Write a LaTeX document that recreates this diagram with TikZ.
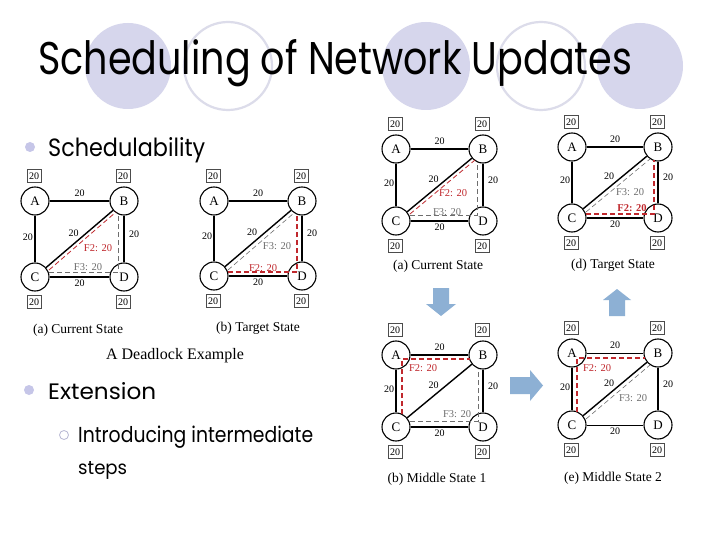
\documentclass[tikz,border=0pt]{standalone}
\usepackage{fontspec}
\setmainfont{Liberation Serif}
\newfontfamily\comic{Poppins}
\usetikzlibrary{calc}
\definecolor{lavfill}{RGB}{214,214,236}
\definecolor{lavline}{RGB}{220,220,234}
\definecolor{bulletlav}{RGB}{198,198,232}
\definecolor{arrowblue}{RGB}{141,176,212}
\definecolor{flowred}{RGB}{192,40,45}
\definecolor{flowgray}{RGB}{110,110,110}
\tikzset{
  nd/.style={circle, draw, line width=1.1pt, minimum size=28pt, inner sep=0pt, fill=white, font=\fontsize{13}{13}\selectfont},
  capbox/.style={draw=black!70, line width=0.4pt, inner sep=0pt, minimum width=14pt, minimum height=13pt, fill=white, font=\fontsize{10}{10}\selectfont},
  lbl/.style={inner sep=0pt, font=\fontsize{10}{10}\selectfont},
  lnk/.style={line width=1.4pt},
  fred/.style={draw=flowred, dash pattern=on 5pt off 3pt, line width=0.8pt},
  fredthick/.style={draw=flowred, dash pattern=on 5pt off 3pt, line width=1.5pt},
  fgray/.style={draw=flowgray, dash pattern=on 5pt off 3pt, line width=0.6pt},
  ftwo/.style={inner sep=0pt, text=flowred, font=\fontsize{10.5}{10.5}\selectfont},
  fthree/.style={inner sep=0pt, text=flowgray, font=\fontsize{10.5}{10.5}\selectfont},
  capt/.style={inner sep=0pt, font=\fontsize{13.5}{14}\selectfont},
  bigtxt/.style={anchor=base west, inner sep=0pt},
}
% #1 prefix, #2 Ax, #3 Ay, #4 dx, #5 dy, #6 width of A-B and C-D links
\newcommand{\netw}[6]{%
  \node[nd] (#1A) at (#2,#3) {A};
  \node[nd] (#1B) at ({#2+#4},#3) {B};
  \node[nd] (#1C) at (#2,{#3+#5}) {C};
  \node[nd] (#1D) at ({#2+#4},{#3+#5}) {D};
  \draw[line width=#6] (#1A) -- (#1B);
  \draw[lnk] (#1A) -- (#1C);
  \draw[lnk] (#1B) -- (#1D);
  \draw[line width=#6] (#1C) -- (#1D);
  \draw[lnk] (#1C) -- (#1B);
  \node[capbox] (#1bA) at ($(#1A)+(-1,-25)$) {20};
  \node[capbox] (#1bB) at ($(#1B)+(-1,-25)$) {20};
  \node[capbox] (#1bC) at ($(#1C)+(-1,25)$) {20};
  \node[capbox] (#1bD) at ($(#1D)+(-1,25)$) {20};
  \node[lbl] (#1lAB) at ($(#1A)!0.5!(#1B)+(0,-8)$) {20};
  \node[lbl] (#1lAC) at ($(#1A)!0.5!(#1C)+(-7,-2)$) {20};
  \node[lbl] (#1lBD) at ($(#1B)!0.5!(#1D)+(10,-5)$) {20};
  \node[lbl] (#1lCB) at ($(#1C)!0.5!(#1B)+(-6,-6)$) {20};
  \node[lbl] (#1lCD) at ($(#1C)!0.5!(#1D)+(0,6)$) {20};
}
\begin{document}
\begin{tikzpicture}[x=1pt,y=-1pt]
\useasboundingbox (0,0) rectangle (720,540);
\fill[white] (0,0) rectangle (720,540);
% title decoration circles
\fill[lavfill] (128,66) circle (43);
\draw[lavline, line width=2.2pt] (228,66) circle (44);
\fill[lavfill] (426,66) circle (44);
\draw[lavline, line width=2.2pt] (541,66) circle (44);
\fill[lavfill] (640,66) circle (43);
\node[bigtxt] (title) at (38,75) {\resizebox{594pt}{35pt}{\comic Scheduling of Network Updates}};
% bullets
\fill[bulletlav] (30,147) circle (5);
\node[bigtxt] (sched) at (48,157) {\resizebox{157pt}{19pt}{\comic Schedulability}};
\fill[bulletlav] (29,390) circle (5);
\node[bigtxt] (ext) at (48,399) {\resizebox{108pt}{17pt}{\comic Extension}};
\draw[bulletlav!80!gray, line width=0.8pt] (64,435) circle (4.5);
\node[bigtxt] (intro) at (78,442) {\resizebox{235pt}{16.5pt}{\comic Introducing intermediate}};
\node[bigtxt] (steps) at (78,474) {\resizebox{49pt}{13pt}{\comic steps}};

% left: deadlock example
\netw{la}{35}{201}{89}{76}{1.4pt}
\draw[fgray] ($(laC)+(14,-5)$) -- ($(laD)+(-6,-5)$) -- ($(laB)+(-6,13)$);
\draw[fred] ($(laC)+(14,-7)$) -- ($(laB)+(-8,11)$);
\node[ftwo] (laf2) at (98,248) {F2: 20};
\node[fthree] (laf3) at (88,267) {F3: 20};
\node[capt] (lacap) at (78,330) {(a) Current State};

\netw{lb}{214}{201}{88}{75}{1.4pt}
\draw[fgray] ($(lbC)+(14,-6)$) -- ($(lbB)+(-8,12)$);
\draw[fredthick] ($(lbC)+(14,-4)$) -- ($(lbD)+(-5,-4)$) -- ($(lbB)+(-5,13)$);
\node[fthree] (lbf3) at (277,246) {F3: 20};
\node[ftwo] (lbf2) at (263,268) {F2: 20};
\node[capt] (lbcap) at (258,328) {(b) Target State};
\node[inner sep=0pt, font=\fontsize{16}{16}\selectfont] (dead) at (175,356) {A Deadlock Example};

% right: (a) current state
\netw{ra}{396}{149}{87}{72}{1.4pt}
\draw[fgray] ($(raC)+(14,-6)$) -- ($(raD)+(-6,-6)$) -- ($(raB)+(-6,13)$);
\draw[fred] ($(raC)+(14,-7)$) -- ($(raB)+(-8,11)$);
\node[ftwo] (raf2) at (453,193) {F2: 20};
\node[fthree] (raf3) at (447,212) {F3: 20};
\node[capt] (racap) at (438,266) {(a) Current State};

% right: (d) target state
\netw{rd}{572}{147}{86}{71}{1.4pt}
\draw[fgray] ($(rdC)+(14,-6)$) -- ($(rdB)+(-8,12)$);
\draw[fred, line width=1.1pt] ($(rdC)+(14,-4)$) -- ($(rdD)+(-4,-4)$) -- ($(rdB)+(-4,13)$);
\node[fthree] (rdf3) at (630,192) {F3: 20};
\node[ftwo, font=\fontsize{10.5}{10.5}\selectfont\bfseries] (rdf2) at (632,208) {F2: 20};
\node[capt] (rdcap) at (613,265) {(d) Target State};

% right: (b) middle state 1
\netw{rb}{396}{355}{87}{72}{1.4pt}
\draw[fgray] ($(rbC)+(14,-6)$) -- ($(rbD)+(-5,-6)$) -- ($(rbB)+(-5,14)$);
\draw[fredthick] ($(rbC)+(6,-13)$) -- ($(rbA)+(6,4)$) -- ($(rbB)+(-13,4)$);
\node[ftwo] (rbf2) at (423,368) {F2: 20};
\node[fthree] (rbf3) at (457,414) {F3: 20};
\node[capt] (rbcap) at (437,479) {(b) Middle State 1};

% right: (e) middle state 2
\netw{rc}{572}{353}{86}{72}{0.9pt}
\draw[fgray] ($(rcC)+(14,-6)$) -- ($(rcB)+(-8,12)$);
\draw[fredthick] ($(rcC)+(5,-13)$) -- ($(rcA)+(5,5)$) -- ($(rcB)+(-13,5)$);
\node[ftwo] (rcf2) at (597,368) {F2: 20};
\node[fthree] (rcf3) at (633,398) {F3: 20};
\node[capt] (rccap) at (613,478) {(e) Middle State 2};

% block arrows
\fill[arrowblue] (433,288) -- (449,288) -- (449,304) -- (456,304) -- (441,316) -- (426,304) -- (433,304) -- cycle;
\fill[arrowblue] (609,316) -- (625,316) -- (625,300) -- (631,300) -- (617,289) -- (603,300) -- (609,300) -- cycle;
\fill[arrowblue] (510,377) -- (530,377) -- (530,370) -- (543,385.5) -- (530,401) -- (530,394) -- (510,394) -- cycle;
\end{tikzpicture}
\end{document}
